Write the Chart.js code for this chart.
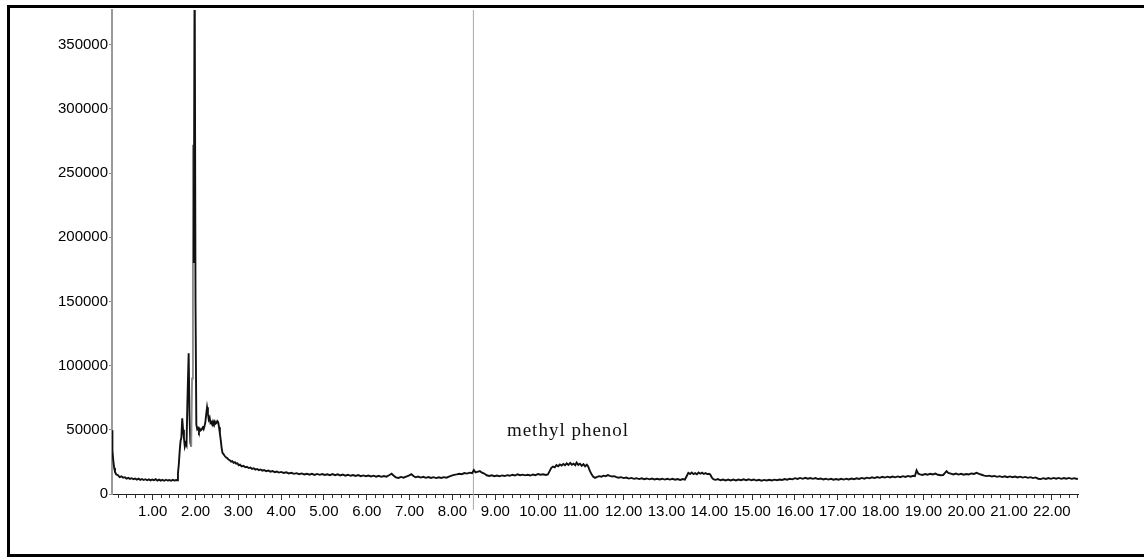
<!DOCTYPE html>
<html>
<head>
<meta charset="utf-8">
<title>Chromatogram</title>
<script src="https://cdn.jsdelivr.net/npm/chart.js@4.4.1/dist/chart.umd.min.js"></script>
<style>
  html, body { margin: 0; padding: 0; background: #fff; overflow: hidden; }
  #wrap { position: relative; width: 1144px; height: 557px; overflow: hidden; }
  #frame {
    position: absolute; left: 7px; top: 5px;
    width: 1200px; height: 546px;
    border: 3px solid #000; border-right: none; pointer-events: none;
  }
  canvas { position: absolute; left: 0; top: 0; }
</style>
</head>
<body>
<div id="wrap">
  <canvas id="tic" width="1144" height="557"></canvas>
  <div id="frame"></div>
</div>
<script>
// retention time (min), abundance
var solventTail = [
  [0.05, 49600], [0.055, 42000], [0.065, 34000], [0.08, 26000], [0.10, 20500],
  [0.12, 17200], [0.15, 15200], [0.19, 14600], [0.23, 13200], [0.27, 13800],
  [0.31, 12700], [0.35, 13100], [0.39, 12000], [0.43, 12600], [0.47, 11800],
  [0.51, 12300], [0.55, 11500], [0.59, 12100], [0.63, 11200], [0.67, 11900],
  [0.71, 11000], [0.75, 11700], [0.79, 10900], [0.83, 11500], [0.87, 10700],
  [0.91, 11400], [0.95, 10600], [0.99, 11300], [1.03, 10800], [1.07, 11500],
  [1.11, 10500], [1.15, 11200], [1.19, 10400], [1.23, 11000], [1.27, 10300],
  [1.31, 11100], [1.35, 10500], [1.39, 10900], [1.43, 10300], [1.47, 11000],
  [1.51, 10500], [1.55, 10900], [1.57, 10700]
];

var earlyPeaks = [
  [1.59, 16000], [1.61, 23000], [1.63, 33000], [1.65, 41000], [1.67, 44000],
  [1.69, 59000], [1.71, 50000], [1.73, 43600], [1.75, 37000], [1.77, 39500],
  [1.79, 38000], [1.81, 70000], [1.84, 109600], [1.86, 62000], [1.88, 40000],
  [1.90, 37000], [1.92, 90000], [1.94, 272000], [1.96, 180000], [1.98, 420000],
  [2.00, 150000], [2.02, 54000], [2.04, 50500], [2.06, 51400], [2.08, 49000],
  [2.10, 50800], [2.12, 49500], [2.14, 50200], [2.17, 51800], [2.19, 50500],
  [2.21, 52700], [2.23, 56000], [2.25, 62000], [2.27, 67500], [2.29, 63000],
  [2.31, 58000], [2.33, 59500], [2.35, 55300], [2.37, 56000], [2.39, 54200],
  [2.41, 56600], [2.43, 55000], [2.45, 56500], [2.47, 54800], [2.49, 55300],
  [2.51, 56800], [2.53, 56000], [2.55, 52000], [2.57, 47000], [2.59, 42000],
  [2.61, 36000], [2.63, 32000], [2.65, 31200], [2.68, 29800], [2.71, 28600],
  [2.74, 28000], [2.77, 26800], [2.80, 26300], [2.83, 25200], [2.86, 25600],
  [2.89, 24300], [2.92, 24800], [2.95, 23600], [2.98, 23900], [3.01, 22400],
  [3.04, 22800], [3.08, 21500], [3.12, 21900], [3.16, 20800], [3.20, 21200],
  [3.24, 20200], [3.28, 20600], [3.32, 19600], [3.36, 20000], [3.40, 19000],
  [3.44, 19500], [3.48, 18600], [3.52, 19100], [3.56, 18200], [3.60, 18700],
  [3.65, 17800], [3.70, 18300], [3.75, 17400], [3.80, 17900], [3.85, 17000],
  [3.90, 17500], [3.95, 16700], [4.00, 17200]
];

var midBaseline = [
  [4.06, 16400], [4.12, 16900], [4.18, 16000], [4.24, 16500], [4.30, 15700],
  [4.36, 16200], [4.42, 15400], [4.48, 16000], [4.54, 15200], [4.60, 15800],
  [4.66, 15000], [4.72, 15700], [4.78, 14900], [4.84, 15600], [4.90, 14900],
  [4.96, 15500], [5.02, 14800], [5.08, 15400], [5.14, 14700], [5.20, 15500],
  [5.26, 14700], [5.32, 15300], [5.38, 14500], [5.44, 15100], [5.50, 14300],
  [5.56, 15000], [5.62, 14200], [5.68, 14800], [5.74, 14100], [5.80, 14700],
  [5.86, 13900], [5.92, 14500], [5.98, 13800], [6.04, 14400], [6.10, 13700],
  [6.16, 14300], [6.22, 13500], [6.28, 14200], [6.34, 13400], [6.40, 14000],
  [6.46, 13500], [6.52, 14600], [6.58, 15800], [6.63, 14200], [6.68, 13000],
  [6.74, 12500], [6.80, 13300], [6.86, 12700], [6.92, 13600], [6.98, 14400],
  [7.04, 15400], [7.09, 14000], [7.14, 13000], [7.20, 13600], [7.26, 12800],
  [7.32, 13400], [7.38, 12600], [7.44, 13200], [7.50, 12500], [7.56, 13100],
  [7.62, 12400], [7.68, 13000], [7.74, 12500], [7.80, 13100], [7.86, 12700],
  [7.92, 13600], [7.98, 14300], [8.04, 14900], [8.10, 15300], [8.16, 15800],
  [8.22, 15400], [8.28, 16300], [8.34, 15900], [8.40, 16600], [8.46, 16200],
  [8.50, 18600], [8.54, 16800], [8.60, 17500], [8.64, 17900], [8.68, 16800],
  [8.72, 16200], [8.76, 15600], [8.80, 14600], [8.86, 14100], [8.92, 14600],
  [8.98, 13900], [9.04, 14400], [9.10, 13800], [9.16, 14500], [9.22, 14000],
  [9.28, 14700], [9.34, 14200], [9.40, 15000], [9.46, 14400], [9.52, 15300],
  [9.58, 14600], [9.64, 15100], [9.70, 14500], [9.76, 15000], [9.82, 14400],
  [9.88, 15200], [9.94, 14700], [10.00, 15600], [10.06, 15000], [10.12, 15400],
  [10.18, 14800], [10.23, 15300]
];

var methylPhenolBand = [
  [10.27, 17800], [10.31, 20400], [10.35, 21400], [10.39, 20800], [10.43, 22500],
  [10.47, 21600], [10.51, 23000], [10.55, 22200], [10.59, 23400], [10.63, 22400],
  [10.67, 23800], [10.71, 22600], [10.75, 24200], [10.79, 22800], [10.83, 23600],
  [10.87, 22400], [10.90, 24500], [10.94, 22700], [10.98, 23600], [11.02, 22000],
  [11.06, 23300], [11.10, 21600], [11.14, 22800], [11.17, 21400], [11.21, 18000],
  [11.25, 15300], [11.29, 13400], [11.33, 12600]
];

var lateBaseline = [
  [11.38, 13400], [11.43, 13900], [11.48, 13500], [11.53, 14300], [11.58, 13900],
  [11.63, 14700], [11.68, 14100], [11.73, 13600], [11.78, 13900], [11.83, 13100],
  [11.88, 12700], [11.94, 13100], [12.00, 12400], [12.06, 12800], [12.12, 12000],
  [12.18, 12500], [12.24, 11800], [12.30, 12300], [12.36, 11600], [12.42, 12200],
  [12.48, 11500], [12.54, 12100], [12.60, 11400], [12.66, 12000], [12.72, 11300],
  [12.78, 11900], [12.84, 11300], [12.90, 11900], [12.96, 11200], [13.02, 11800],
  [13.08, 11200], [13.14, 11800], [13.20, 11100], [13.26, 11700], [13.32, 11000],
  [13.38, 11600], [13.43, 11200], [13.47, 13800], [13.51, 16500], [13.55, 15600],
  [13.59, 16800], [13.63, 15500], [13.67, 16200], [13.71, 15400], [13.75, 16700],
  [13.79, 15800], [13.83, 16600], [13.87, 15600], [13.91, 16300], [13.95, 15500],
  [13.99, 15800], [14.02, 15200], [14.06, 12800], [14.10, 11400], [14.15, 11000],
  [14.20, 11600], [14.26, 10700], [14.32, 11300], [14.38, 10600], [14.44, 11200],
  [14.50, 10500], [14.56, 11200], [14.62, 10600], [14.68, 11300], [14.74, 10700],
  [14.80, 11400], [14.86, 10800], [14.92, 11500], [14.98, 10700], [15.04, 11300],
  [15.10, 10500], [15.16, 11100], [15.22, 10400], [15.28, 11000], [15.34, 10500],
  [15.40, 11100], [15.46, 10600], [15.52, 11200], [15.58, 10700], [15.64, 11300],
  [15.70, 10900], [15.76, 11600], [15.82, 11100], [15.88, 11900], [15.94, 11400],
  [16.00, 12300], [16.06, 11700], [16.12, 12500], [16.18, 11800], [16.24, 12600],
  [16.30, 11900], [16.36, 12400], [16.42, 11800], [16.48, 12400], [16.54, 11600],
  [16.60, 12100], [16.66, 11300], [16.72, 11900], [16.78, 11200], [16.84, 11800],
  [16.90, 11100], [16.96, 11700], [17.02, 11100], [17.08, 11800], [17.14, 11200],
  [17.20, 11900], [17.26, 11300], [17.32, 12000], [17.38, 11500], [17.44, 12200],
  [17.50, 11700], [17.56, 12500], [17.62, 11900], [17.68, 12700], [17.74, 12200],
  [17.80, 13000], [17.86, 12400], [17.92, 13200], [17.98, 12600], [18.04, 13400],
  [18.10, 12800], [18.16, 13500], [18.22, 12900], [18.28, 13600], [18.34, 13000],
  [18.40, 13700], [18.46, 13100], [18.52, 13900], [18.58, 13300], [18.64, 14100],
  [18.70, 13500], [18.76, 14200], [18.80, 13900], [18.84, 18400], [18.88, 15800],
  [18.92, 15300], [18.98, 14800], [19.04, 15600], [19.10, 15000], [19.16, 15800],
  [19.22, 15200], [19.28, 15900], [19.34, 15000], [19.40, 14600], [19.46, 14800],
  [19.50, 16300], [19.54, 17800], [19.58, 16400], [19.64, 15900], [19.70, 15200],
  [19.76, 15900], [19.82, 15100], [19.88, 15700], [19.94, 15000], [20.00, 15600],
  [20.06, 15200], [20.12, 16000], [20.18, 15600], [20.24, 16500], [20.30, 15700],
  [20.36, 15000], [20.42, 14300], [20.48, 13900], [20.54, 14300], [20.60, 13600],
  [20.66, 14100], [20.72, 13400], [20.78, 13900], [20.84, 13200], [20.90, 13800],
  [20.96, 13100], [21.02, 13700], [21.08, 13100], [21.14, 13600], [21.20, 12900],
  [21.26, 13500], [21.32, 12800], [21.38, 13300], [21.44, 12600], [21.50, 13100],
  [21.56, 12400], [21.62, 12900], [21.68, 11900], [21.74, 11600], [21.80, 12300],
  [21.86, 11700], [21.92, 12400], [21.98, 11800], [22.04, 12500], [22.10, 11900],
  [22.16, 12500], [22.22, 11800], [22.28, 12400], [22.34, 11900], [22.40, 12500],
  [22.46, 11800], [22.52, 12300], [22.58, 11700], [22.61, 12000]
];

// thin vertical trace mark near 8.5 min
var markerLine = [[8.49, -12400], [8.49, 377000]];

var xMajorTicks = [1, 2, 3, 4, 5, 6, 7, 8, 9, 10, 11, 12, 13, 14, 15, 16, 17, 18, 19, 20, 21, 22];
var minorStep = 0.2;
var yTicks = [0, 50000, 100000, 150000, 200000, 250000, 300000, 350000];

var peakLabel = { text: 'methyl phenol', time: 10.7, abundance: 45000 };

var trace = solventTail.concat(earlyPeaks, midBaseline, methylPhenolBand, lateBaseline);

function toPoints(rows) {
  return rows.map(function (r) { return { x: r[0], y: r[1] }; });
}

function isMajor(v) {
  return xMajorTicks.indexOf(Math.round(v * 100) / 100) !== -1;
}

var labelPlugin = {
  id: 'peakLabel',
  afterDatasetsDraw: function (chart) {
    var ctx = chart.ctx;
    var x = chart.scales.x.getPixelForValue(peakLabel.time);
    var y = chart.scales.y.getPixelForValue(peakLabel.abundance);
    ctx.save();
    ctx.font = '19px "Liberation Serif", "Times New Roman", serif';
    if ('letterSpacing' in ctx) ctx.letterSpacing = '1px';
    ctx.fillStyle = '#111';
    ctx.textAlign = 'center';
    ctx.textBaseline = 'alphabetic';
    ctx.fillText(peakLabel.text, x, y);
    ctx.restore();
  }
};

var ctx = document.getElementById('tic').getContext('2d');
new Chart(ctx, {
  type: 'line',
  data: {
    datasets: [{
      data: toPoints(trace),
      borderColor: '#111',
      borderWidth: 1.9,
      pointRadius: 0,
      tension: 0,
      segment: {
        // fast spikes come out lighter on the trace
        borderColor: function (c) {
          var a = c.p0.parsed.x, b = c.p1.parsed.x;
          return (a >= 1.89 && b <= 1.97) ? '#8a8a8a' : undefined;
        }
      }
    }, {
      data: toPoints(markerLine),
      borderColor: '#a8a8a8',
      borderWidth: 1,
      pointRadius: 0,
      clip: false
    }]
  },
  options: {
    responsive: false,
    animation: false,
    layout: { padding: { top: 7, right: 66, left: 0, bottom: 0 } },
    plugins: { legend: { display: false }, tooltip: { enabled: false } },
    scales: {
      x: {
        type: 'linear',
        min: 0.05,
        max: 22.61,
        afterFit: function (s) { s.height = 63; },
        afterBuildTicks: function (s) {
          var t = [];
          for (var i = 1; i * minorStep <= 22.61; i++) t.push({ value: Math.round(i * minorStep * 100) / 100 });
          s.ticks = t;
        },
        border: { display: true, color: '#222', width: 1 },
        grid: {
          drawOnChartArea: false,
          drawTicks: true,
          tickLength: 6,
          tickColor: '#333',
          tickWidth: 1,
          tickBorderDash: function (c) { return (c.tick && isMajor(c.tick.value)) ? [] : [3, 20]; }
        },
        ticks: {
          autoSkip: false,
          maxRotation: 0,
          padding: 3,
          color: '#000',
          font: { family: '"Liberation Sans", Arial, sans-serif', size: 15 },
          callback: function (v) { return isMajor(v) ? v.toFixed(2) : ''; }
        }
      },
      y: {
        min: 0,
        max: 377000,
        afterFit: function (s) { s.width = 112; },
        afterBuildTicks: function (s) {
          s.ticks = yTicks.map(function (v) { return { value: v }; });
        },
        border: { display: true, color: '#9a9a9a', width: 2 },
        grid: {
          drawOnChartArea: false,
          drawTicks: true,
          tickLength: 3,
          tickColor: '#888'
        },
        ticks: {
          padding: 1,
          color: '#000',
          font: { family: '"Liberation Sans", Arial, sans-serif', size: 15 },
          callback: function (v) { return String(v); }
        }
      }
    }
  },
  plugins: [labelPlugin]
});
</script>
</body>
</html>
